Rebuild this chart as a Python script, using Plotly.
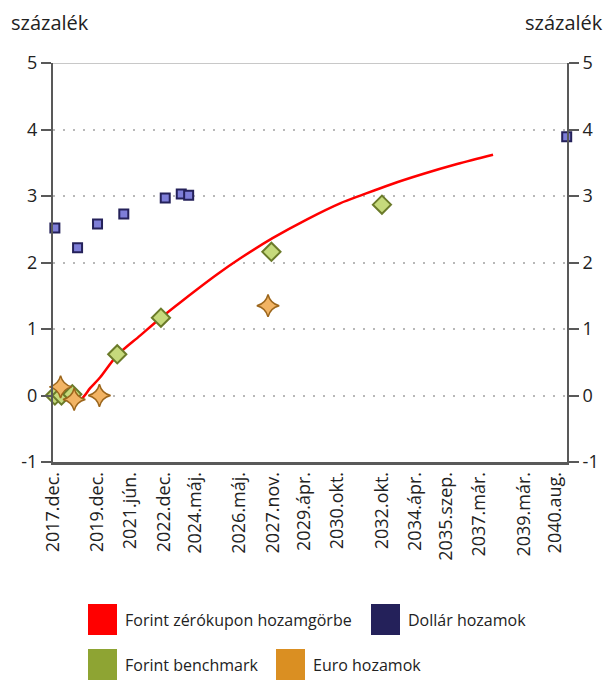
"""
Forint, dollar and euro yield curves (Plotly recreation)
"""

import plotly.graph_objects as go

# Forint zero-coupon yield curve
curve_dates = ['2017-10-30', '2018-01-20', '2018-04-25', '2018-08-05', '2018-11-25',
               '2019-03-25', '2019-08-05', '2020-01-15', '2020-10-20', '2021-11-05',
               '2022-10-15', '2023-10-10', '2025-04-25', '2026-05-10', '2027-11-05',
               '2029-05-20', '2030-11-15', '2031-11-25', '2033-02-15', '2034-08-10',
               '2036-02-25', '2037-10-10']
curve_values = [0.15, 0.06, -0.03, -0.07, -0.08, -0.04, 0.11, 0.27, 0.60, 0.90,
                1.17, 1.43, 1.82, 2.06, 2.37, 2.65, 2.89, 3.02, 3.17, 3.33,
                3.48, 3.62]

# Dollar yields
usd_dates = ['2018-01-01', '2019-01-10', '2019-12-05', '2021-02-10', '2022-12-25',
             '2023-09-15', '2024-01-15', '2041-02-05']
usd_values = [2.52, 2.22, 2.58, 2.73, 2.97, 3.03, 3.01, 3.89]

# Forint benchmark yields
huf_dates = ['2018-01-01', '2018-04-20', '2018-10-15', '2020-10-25', '2022-10-15',
             '2027-10-10', '2032-10-05']
huf_values = [0.0, 0.0, 0.02, 0.62, 1.17, 2.16, 2.87]

# Euro yields
eur_dates = ['2018-04-05', '2018-11-15', '2020-01-05', '2027-08-15']
eur_values = [0.13, -0.06, 0.0, 1.35]

tick_dates = ['2017-12-01', '2019-12-01', '2021-06-01', '2022-12-01', '2024-05-01',
              '2026-05-01', '2027-11-01', '2029-04-01', '2030-10-01', '2032-10-01',
              '2034-04-01', '2035-09-01', '2037-03-01', '2039-03-01', '2040-08-01']
tick_labels = ['2017.dec.', '2019.dec.', '2021.jún.', '2022.dec.', '2024.máj.',
               '2026.máj.', '2027.nov.', '2029.ápr.', '2030.okt.', '2032.okt.',
               '2034.ápr.', '2035.szep.', '2037.már.', '2039.már.', '2040.aug.']

y_ticks = [-1, 0, 1, 2, 3, 4, 5]
y_labels = ['-1', '0', '1', '2', '3', '4', '5']

legend_items = [
    ('Forint zérókupon hozamgörbe', '#FF0000'),
    ('Dollár hozamok', '#24215A'),
    ('Forint benchmark', '#8EA433'),
    ('Euro hozamok', '#DA8F22'),
]

FONT = 'Open Sans'
W, H = 614, 680
L, R, T, B = 53, 47, 63, 218
axis_col = '#595959'
text_col = '#222222'

fig = go.Figure()

fig.add_trace(go.Scatter(x=curve_dates, y=curve_values, mode='lines',
                         line=dict(color='#FF0000', width=2.5, shape='spline',
                                   smoothing=0.9),
                         name=legend_items[0][0]))
fig.add_trace(go.Scatter(x=usd_dates, y=usd_values, mode='markers',
                         marker=dict(symbol='square', size=9, color='#7E7ED8',
                                     line=dict(color='#24215A', width=2)),
                         name=legend_items[1][0], cliponaxis=False))
fig.add_trace(go.Scatter(x=huf_dates, y=huf_values, mode='markers',
                         marker=dict(symbol='diamond', size=14, color='#C6DA7C',
                                     line=dict(color='#6B7B2A', width=2)),
                         name=legend_items[2][0], cliponaxis=False))
fig.add_trace(go.Scatter(x=eur_dates, y=eur_values, mode='markers',
                         marker=dict(symbol='star-diamond', size=16, color='#F2B464',
                                     line=dict(color='#9C661C', width=1.5)),
                         name=legend_items[3][0], cliponaxis=False))
# invisible trace so the right axis is drawn
fig.add_trace(go.Scatter(x=[tick_dates[0]], y=[None], yaxis='y2', showlegend=False,
                         hoverinfo='skip'))

yax = dict(range=[-1, 5], tickvals=y_ticks, ticktext=y_labels, showline=True,
           linecolor=axis_col, linewidth=2, ticks='outside', ticklen=10, tickwidth=2,
           tickcolor=axis_col, tickfont=dict(family=FONT, size=18, color=text_col),
           zeroline=False, fixedrange=True)

fig.update_layout(
    width=W, height=H,
    margin=dict(l=L, r=R, t=T, b=B),
    paper_bgcolor='white', plot_bgcolor='white',
    showlegend=False,
    font=dict(family=FONT, size=16, color=text_col),
    xaxis=dict(type='date', range=['2017-12-01', '2041-02-10'],
               tickvals=tick_dates, ticktext=tick_labels, tickangle=-90,
               showgrid=False, showline=True, linecolor=axis_col, linewidth=2.5,
               ticks='', tickfont=dict(family=FONT, size=18, color=text_col)),
    yaxis=dict(**yax, side='left', showgrid=True, gridcolor='#B8B8B8',
               griddash='2px,8px', gridwidth=1.5),
    yaxis2=dict(**yax, side='right', overlaying='y', showgrid=False),
)

# solid top border at 5
fig.add_hline(y=5, line=dict(color='#C8C8C8', width=2))

fig.add_annotation(text='százalék', xref='paper', yref='paper', x=-(L - 9) / (W - L - R),
                   xanchor='left', y=1 + 41 / (H - T - B), yanchor='middle',
                   showarrow=False, font=dict(family=FONT, size=20, color=text_col))
fig.add_annotation(text='százalék', xref='paper', yref='paper',
                   x=1 + (R - 9) / (W - L - R), xanchor='right',
                   y=1 + 41 / (H - T - B), yanchor='middle',
                   showarrow=False, font=dict(family=FONT, size=20, color=text_col))


# custom legend with large colour squares below the chart
def px_x(v):
    return (v - L) / (W - L - R)


def px_y(v):
    return (H - B - v) / (H - T - B)


legend_pos = [(88, 604), (371, 604), (88, 649), (276, 649)]
for (label, colour), (lx, ly) in zip(legend_items, legend_pos):
    fig.add_shape(type='rect', xref='paper', yref='paper',
                  x0=px_x(lx), x1=px_x(lx + 29), y0=px_y(ly), y1=px_y(ly + 31),
                  fillcolor=colour, line=dict(width=0))
    fig.add_annotation(text=label, xref='paper', yref='paper',
                       x=px_x(lx + 35), xanchor='left', y=px_y(ly + 16),
                       yanchor='middle', showarrow=False,
                       font=dict(family=FONT, size=16, color=text_col))

# drop the default page margin so the figure sits at the window's corner
fig.write_html('out.html', config={'displayModeBar': False},
               post_script="document.body.style.margin='0';")
